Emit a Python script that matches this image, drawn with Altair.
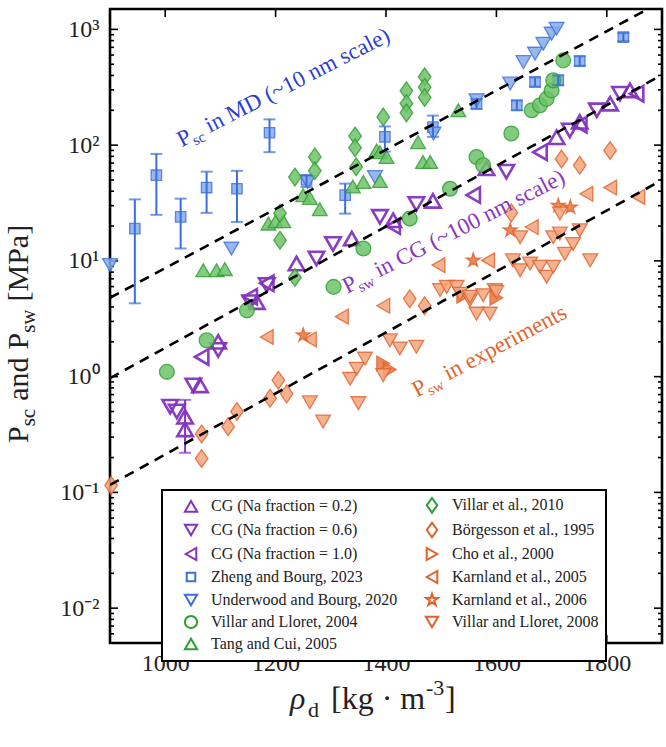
import altair as alt
import pandas as pd

FONT = "Liberation Serif"
W, H = 552, 634
NB = "\u00a0"

# ---------------- data (rho_d in kg/m3, pressure in MPa) ----------------
cg02_x = [1036, 1036, 1063, 1096, 1166, 1238, 1338, 1413, 1485, 1582, 1709, 1751, 1806, 1842]
cg02_y = [0.45, 0.35, 0.84, 2.0, 4.4, 9.5, 15.6, 22.4, 33, 63, 117, 159, 228, 297]
cg02_err_x = [1036]
cg02_err_lo = [0.22]
cg02_err_hi = [0.63]

cg06_x = [1009, 1021, 1051, 1096, 1154, 1184, 1274, 1304, 1389, 1455, 1618, 1733, 1782, 1824]
cg06_y = [0.55, 0.5, 0.84, 1.7, 4.4, 6.2, 10.5, 14, 24, 31, 59, 134, 200, 278]

cg10_x = [1066, 1154, 1184, 1413, 1558, 1679, 1751, 1854]
cg10_y = [1.48, 4.9, 6.4, 20, 37, 87, 150, 278]

zheng_x = [945, 984, 1028, 1075, 1130, 1189, 1256, 1326, 1398, 1485, 1564, 1637, 1670, 1712, 1751, 1830]
zheng_y = [19, 55, 24, 43, 42, 128, 50, 37, 118, 143, 228, 221, 351, 363, 532, 858]
zheng_lo = [4.3, 25, 12.8, 26, 21.7, 87, 43.5, 25.6, 88, 118, 205, 200, 320, 330, 485, 790]
zheng_hi = [34, 84, 34.5, 59, 60, 167, 55, 46.5, 145, 180, 250, 243, 385, 400, 585, 930]

underwood_x = [900, 1120, 1258, 1380, 1486, 1564, 1625, 1649, 1670, 1685, 1700, 1709]
underwood_y = [9.2, 12.8, 48, 53, 126, 244, 340, 522, 617, 752, 918, 1013]

vl2004_x = [1003, 1075, 1148, 1305, 1359, 1443, 1516, 1564, 1576, 1627, 1664, 1679, 1691, 1700, 1703, 1721]
vl2004_y = [1.1, 2.06, 3.74, 5.96, 12.8, 23.2, 42, 79, 67, 126, 200, 221, 251, 297, 363, 540]

tang_x = [1069, 1093, 1108, 1187, 1200, 1214, 1250, 1262, 1280, 1340, 1359, 1383, 1389, 1401, 1389, 1458, 1467, 1480, 1531]
tang_y = [8.3, 8.3, 8.5, 21, 22, 22, 37, 35, 28, 44, 48, 90, 87, 79, 49, 106, 71.5, 71.5, 200]

villar2010_x = [1208, 1208, 1235, 1235, 1271, 1271, 1344, 1344, 1346, 1395, 1437, 1437, 1437, 1470, 1470, 1470]
villar2010_y = [15.1, 25.8, 53, 7.2, 79, 60, 120, 95, 65, 175, 295, 229, 190, 389, 316, 258]

borg_x = [902, 1066, 1066, 1114, 1130, 1190, 1205, 1220, 1443, 1470, 1627, 1718, 1751, 1806]
borg_y = [0.115, 0.32, 0.196, 0.37, 0.5, 0.65, 0.93, 0.71, 4.7, 4.1, 26, 76, 67, 90]

cho_x = [1395, 1407, 1540, 1600]
cho_y = [1.3, 1.15, 5.0, 4.8]

karn05_x = [1184, 1262, 1320, 1395, 1495, 1585, 1664, 1763, 1806, 1857]
karn05_y = [2.2, 2.1, 3.3, 4.1, 9.2, 10.1, 19.6, 38, 43, 35.7]

karn06_x = [1250, 1558, 1625, 1712, 1734]
karn06_y = [2.28, 10.1, 18.4, 30, 29]

vl2008_x = [1262, 1286, 1335, 1347, 1362, 1350, 1395, 1407, 1425, 1455, 1498, 1510, 1528, 1534, 1552,
            1552, 1564, 1576, 1588, 1597, 1600, 1630, 1643, 1643, 1661, 1679, 1691, 1703, 1703, 1715,
            1715, 1724, 1739, 1751, 1770]
vl2008_y = [0.6, 0.41, 0.96, 1.17, 1.43, 0.59, 1.03, 2.06, 1.75, 1.81, 5.6, 5.96, 5.96, 5.2, 4.57,
            4.9, 3.5, 5.05, 3.5, 5.6, 5.4, 10.1, 8.3, 16, 9.5, 8.9, 7.3, 8.9, 16, 17.2,
            25.7, 11.5, 14, 18.4, 10.1]

# dashed fit lines (end points)
fit_x = [900, 1900]
fit_md = [4.8, 1740]
fit_cg = [0.97, 405]
fit_exp = [0.116, 50]

x_ticks = [1000, 1200, 1400, 1600, 1800]
y_ticks = [0.01, 0.1, 1, 10, 100, 1000]
y_tick_labels = ["10⁻²", "10⁻¹", "10⁰", "10¹", "10²", "10³"]
y_minor = [m * 10.0 ** k for k in range(-3, 3) for m in range(2, 10) if 0.005 <= m * 10.0 ** k <= 1500]

col1 = ["CG (Na fraction = 0.2)", "CG (Na fraction = 0.6)", "CG (Na fraction = 1.0)",
        "Zheng and Bourg, 2023", "Underwood and Bourg, 2020", "Villar and Lloret, 2004",
        "Tang and Cui, 2005"]
col2 = ["Villar et al., 2010", "Börgesson et al., 1995", "Cho et al., 2000",
        "Karnland et al., 2005", "Karnland et al., 2006", "Villar and Lloret, 2008"]

# ---------------- styles ----------------
PURPLE, BLUE, GREEN, ORANGE = "#8433C0", "#3A6FD8", "#2E9E2E", "#E0602A"
STAR = "M0,-1L0.2245,-0.309L0.951,-0.309L0.363,0.118L0.588,0.809L0,0.382L-0.588,0.809L-0.363,0.118L-0.951,-0.309L-0.2245,-0.309Z"
SQUARE = "M-0.7,-0.7H0.7V0.7H-0.7Z"
DIAMOND = "M0,-1.2L0.85,0L0,1.2L-0.85,0Z"

style = {
    "CG (Na fraction = 0.2)": (PURPLE, "triangle-up", "transparent"),
    "CG (Na fraction = 0.6)": (PURPLE, "triangle-down", "transparent"),
    "CG (Na fraction = 1.0)": (PURPLE, "triangle-left", "transparent"),
    "Zheng and Bourg, 2023": (BLUE, SQUARE, "#86AAEC"),
    "Underwood and Bourg, 2020": (BLUE, "triangle-down", "#86AAEC"),
    "Villar and Lloret, 2004": (GREEN, "circle", "#6CC268"),
    "Tang and Cui, 2005": (GREEN, "triangle-up", "#6CC268"),
    "Villar et al., 2010": (GREEN, DIAMOND, "#6CC268"),
    "Börgesson et al., 1995": (ORANGE, DIAMOND, "#F3A47E"),
    "Cho et al., 2000": (ORANGE, "triangle-right", "#E8753E"),
    "Karnland et al., 2005": (ORANGE, "triangle-left", "#F3A47E"),
    "Karnland et al., 2006": (ORANGE, STAR, "#E8753E"),
    "Villar and Lloret, 2008": (ORANGE, "triangle-down", "#F3A47E"),
}

order = col1 + col2  # vega fills the 2-column legend column by column

series = {
    "CG (Na fraction = 0.2)": (cg02_x, cg02_y),
    "CG (Na fraction = 0.6)": (cg06_x, cg06_y),
    "CG (Na fraction = 1.0)": (cg10_x, cg10_y),
    "Zheng and Bourg, 2023": (zheng_x, zheng_y),
    "Underwood and Bourg, 2020": (underwood_x, underwood_y),
    "Villar and Lloret, 2004": (vl2004_x, vl2004_y),
    "Tang and Cui, 2005": (tang_x, tang_y),
    "Villar et al., 2010": (villar2010_x, villar2010_y),
    "Börgesson et al., 1995": (borg_x, borg_y),
    "Cho et al., 2000": (cho_x, cho_y),
    "Karnland et al., 2005": (karn05_x, karn05_y),
    "Karnland et al., 2006": (karn06_x, karn06_y),
    "Villar and Lloret, 2008": (vl2008_x, vl2008_y),
}

rows = []
for name, (xs, ys) in series.items():
    for a, b in zip(xs, ys):
        rows.append({"rho": a, "P": b, "series": name})
pts = pd.DataFrame(rows)
cg_names = col1[:3]
pts_cg = pts[pts.series.isin(cg_names)]
pts_exp = pts[~pts.series.isin(cg_names)]

# ---------------- scales & axes ----------------
xscale = alt.Scale(domain=[900, 1900], nice=False, zero=False)
yscale = alt.Scale(type="log", domain=[0.005, 1500], nice=False)
label_expr = " : ".join(
    f"datum.value < {v * 3} ? '{t}'" for v, t in zip(y_ticks[:-1], y_tick_labels[:-1])
) + f" : '{y_tick_labels[-1]}'"
xaxis = alt.Axis(values=x_ticks, title=None, grid=False, domain=False, ticks=False, format="d",
                 labelFont=FONT, labelFontSize=24, labelColor="#222", labelPadding=8)
yaxis = alt.Axis(values=y_ticks, title=None, grid=False, domain=False, ticks=False,
                 labelFont=FONT, labelFontSize=24, labelColor="#222", labelPadding=11,
                 labelExpr=label_expr)


def X(f="rho"):
    return alt.X(f"{f}:Q", scale=xscale, axis=xaxis)


def Y(f="P"):
    return alt.Y(f"{f}:Q", scale=yscale, axis=yaxis)


stroke_scale = alt.Scale(domain=order, range=[style[n][0] for n in order])
shape_scale = alt.Scale(domain=order, range=[style[n][1] for n in order])
exp_names = [n for n in order if n not in cg_names]
fill_scale = alt.Scale(domain=exp_names, range=[style[n][2] for n in exp_names])

legend = alt.Legend(title=None, orient="none", legendX=52, legendY=481, columns=2,
                    fillColor="white", strokeColor="black", padding=7,
                    labelFont=FONT, labelFontSize=16, labelColor="#222", labelLimit=0,
                    symbolSize=150, symbolStrokeWidth=2, symbolFillColor="white",
                    symbolOpacity=1, rowPadding=1, columnPadding=12, labelOffset=12,
                    symbolOffset=14, cornerRadius=0)

cg_layer = alt.Chart(pts_cg).mark_point(filled=False, size=240, strokeWidth=2.6, opacity=0.95).encode(
    x=X(), y=Y(),
    stroke=alt.Stroke("series:N", scale=stroke_scale, legend=legend),
    shape=alt.Shape("series:N", scale=shape_scale, legend=legend),
)

exp_layer = alt.Chart(pts_exp).mark_point(filled=True, size=220, strokeWidth=1.3, opacity=1,
                                          fillOpacity=0.85, strokeOpacity=0.8).encode(
    x=X(), y=Y(),
    stroke=alt.Stroke("series:N", scale=stroke_scale, legend=legend),
    shape=alt.Shape("series:N", scale=shape_scale, legend=legend),
    fill=alt.Fill("series:N", scale=fill_scale, legend=None),
)

# error bars
err_df = pd.DataFrame({"rho": zheng_x, "lo": zheng_lo, "hi": zheng_hi})
err_cg = pd.DataFrame({"rho": cg02_err_x, "lo": cg02_err_lo, "hi": cg02_err_hi})


def errbars(df, color):
    base = alt.Chart(df)
    rule = base.mark_rule(color=color, strokeWidth=2).encode(x=X(), y=Y("lo"), y2="hi:Q")
    cap_lo = base.mark_tick(color=color, orient="horizontal", size=12, thickness=2).encode(x=X(), y=Y("lo"))
    cap_hi = base.mark_tick(color=color, orient="horizontal", size=12, thickness=2).encode(x=X(), y=Y("hi"))
    return [rule, cap_lo, cap_hi]


# dashed fits
fit_rows = []
for g, ys in (("md", fit_md), ("cg", fit_cg), ("exp", fit_exp)):
    for a, b in zip(fit_x, ys):
        fit_rows.append({"rho": a, "P": b, "g": g})
fits = alt.Chart(pd.DataFrame(fit_rows)).mark_line(
    color="black", strokeWidth=2.6, strokeDash=[10, 7], clip=True
).encode(x=X(), y=Y(), detail="g:N")


# rotated annotations with subscripts
def annotation(x, y, sub, rest, color, angle, size=23):
    df = pd.DataFrame({"rho": [x], "P": [y]})
    base = alt.Chart(df)
    w_p = 0.556 * size
    w_sub = {"sc": 0.833, "sw": 1.111}[sub] * size * 0.66
    common = dict(align="left", baseline="alphabetic", font=FONT, color=color, angle=angle)
    return [
        base.mark_text(text="P", fontSize=size, **common).encode(x=X(), y=Y()),
        base.mark_text(text=sub, fontSize=size * 0.66, dx=w_p, dy=5, **common).encode(x=X(), y=Y()),
        base.mark_text(text=rest, fontSize=size, dx=w_p + w_sub + 6, **common).encode(x=X(), y=Y()),
    ]


ann = []
ann += annotation(1030, 96, "sc", "in MD (~10 nm scale)", "#2B3FD1", 333)
ann += annotation(1330, 5.2, "sw", "in CG (~100 nm scale)", "#8A35C0", 333)
ann += annotation(1456, 0.66, "sw", "in experiments", "#E0662E", 332)


# axis ticks (inward, mirrored)
def yt(vals, length, right):
    x0 = W if right else 0
    x1 = W - length if right else length
    return alt.Chart(pd.DataFrame({"P": vals})).mark_rule(color="black", strokeWidth=1.6).encode(
        y=Y(), x=alt.value(x0), x2=alt.value(x1))


def xt(vals, length, top):
    y0 = 0 if top else H
    y1 = length if top else H - length
    return alt.Chart(pd.DataFrame({"rho": vals})).mark_rule(color="black", strokeWidth=1.6).encode(
        x=X(), y=alt.value(y0), y2=alt.value(y1))


ticks = [yt(y_ticks, 8, False), yt(y_ticks, 8, True), yt(y_minor, 4, False), yt(y_minor, 4, True),
         xt(x_ticks, 8, False), xt(x_ticks, 8, True)]


# axis titles as text with sub/superscripts
def title_piece(text, x, y, size, angle, dx=0, dy=0, style="normal"):
    return alt.Chart(pd.DataFrame({"t": [text]})).mark_text(
        align="left", baseline="alphabetic", font=FONT, fontSize=size, color="#222",
        angle=angle, dx=dx, dy=dy, fontStyle=style
    ).encode(text="t:N", x=alt.value(x), y=alt.value(y))


TS, SS = 30, 21
ytx, yty = -82, 434
o1 = 0.556 * TS
o2 = o1 + 0.833 * SS + 8
o3 = o2 + 1.444 * TS + 8
o4 = o3 + 0.556 * TS
o5 = o4 + 1.111 * SS + 8
ytitle = [
    title_piece("P", ytx, yty, TS, 270),
    title_piece("sc", ytx, yty, SS, 270, o1, 7),
    title_piece("and", ytx, yty, TS, 270, o2),
    title_piece("P", ytx, yty, TS, 270, o3),
    title_piece("sw", ytx, yty, SS, 270, o4, 7),
    title_piece("[MPa]", ytx, yty, TS, 270, o5),
]
XS, XSS = 32, 22
xtx, xty = 180, 700
xtitle = [
    title_piece("ρ", xtx, xty, XS, 0, 0, 0, "italic"),
    title_piece("d", xtx, xty, XSS, 0, 18, 8),
    title_piece(f"[kg{NB}·{NB}m", xtx, xty, XS, 0, 41),
    title_piece("-3", xtx, xty, XSS, 0, 136, -14),
    title_piece("]", xtx, xty, XS, 0, 155),
]

layers = (ticks + [cg_layer, exp_layer] + errbars(err_df, "#3A6FD8") + errbars(err_cg, PURPLE)
          + [fits] + ann + ytitle + xtitle)

chart = alt.layer(*layers).properties(
    width=W, height=H,
    autosize=alt.AutoSizeParams(type="none"),
    padding={"left": 110, "top": 9, "right": 4, "bottom": 104},
    background="white",
).configure_view(stroke="black", strokeWidth=2.6).configure_legend(strokeWidth=2)

chart.save("out.html", embed_options={"renderer": "svg", "actions": False})
